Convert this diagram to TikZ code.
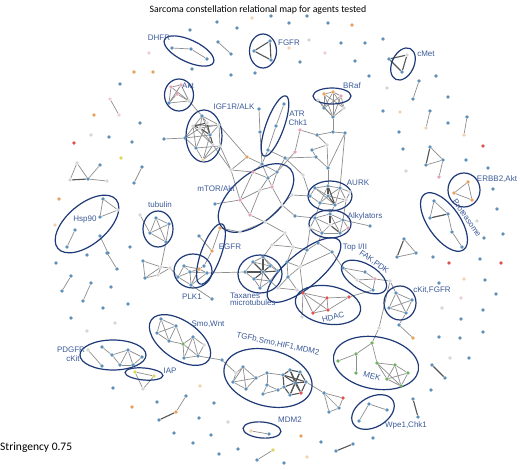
\documentclass[tikz,border=0pt]{standalone}
\usepackage{fontspec}
\setmainfont{Liberation Sans}
\newfontfamily\titlefont{Carlito}
\usetikzlibrary{shapes.geometric,backgrounds}
\definecolor{nb}{HTML}{5E90BA}
\definecolor{no}{HTML}{E8A05A}
\definecolor{po}{HTML}{F2D2B0}
\definecolor{npk}{HTML}{E6A3B5}
\definecolor{pp}{HTML}{F0CED6}
\definecolor{nr}{HTML}{D9534F}
\definecolor{ng}{HTML}{6FAF5F}
\definecolor{ny}{HTML}{D8D860}
\definecolor{pl}{HTML}{D6D6D6}
\definecolor{eg}{HTML}{8E8E8E}
\definecolor{eg2}{HTML}{555555}
\definecolor{ell}{HTML}{1F3A78}
\definecolor{lb}{HTML}{3C5A99}
\begin{document}
\begin{tikzpicture}[x=1pt,y=1pt,
  dot/.style={circle,inner sep=0pt,minimum size=3.6pt,draw=none},
  lk/.style={draw=eg,line width=0.7pt},
  hk/.style={draw=eg2,line width=1.1pt},
  grp/.style={ellipse,draw=ell,line width=1.2pt,inner sep=0pt},
  lab/.style={text=lb,font=\fontsize{8}{9}\selectfont,inner sep=0pt,align=center}]
\useasboundingbox (0,0) rectangle (520,-470);
\node[font=\titlefont\fontsize{9.8}{12}\selectfont] (title) at (258,-10) {Sarcoma constellation relational map for agents tested};
\node[font=\titlefont\fontsize{11.5}{13}\selectfont,anchor=west,inner sep=0pt] (str) at (0,-448) {Stringency 0.75};
% group ellipses
\foreach \n/\x/\y/\w/\h/\r in {Edhfr/189/51/54/22/-25, Efgfr/263/51/27/34/0, Ecmet/403/64/22/34/-25,
  Eakt/179/95/29/32/0, Ebraf/332/96/38/16/0, Eigf/204/136/36/52/0, Eatr/275/126/18/64/-20,
  Emtor/256/198/90/48/40, Eaurk/330/196/44/30/0, Ealk/330/224/42/28/0, Etop/304/270/92/34/40,
  Efak/364/277/50/26/-30, Ehdac/328/305/66/38/-10, Eckit/400/303/32/34/0, Emek/376/363/86/52/-10,
  Ewpe/373/412/46/30/30, Emdm/262/430/38/16/-5, Etgf/268/378/90/56/-15, Esmo/180/340/70/38/-35,
  Epdgfr/113/355/66/30/0, Eiap/144/374/38/12/-5, Ehsp/87/224/76/40/40, Etub/158/229/30/36/0,
  Eegfr/211/254/64/20/70, Eplk/193/271/38/34/0, Etax/260/274/44/38/0, Eerbb/464/190/32/34/0,
  Eprot/444/222/68/32/-55}
  \node[grp,minimum width=\w pt,minimum height=\h pt,rotate=\r] (\n) at (\x,-\y) {};
% labels
\foreach \n/\x/\y/\r/\t in {Ldhfr/159/38/0/DHFR, Lfgfr/289/43/0/FGFR, Lcmet/426/54/0/cMet, Lakt/188/86/0/Akt,
  Lbraf/352/86/0/BRaf, Ligf/234/107/0/{IGF1R/ALK}, Latr/297/114/0/ATR, Lchk/298/123/0/Chk1,
  Lmtor/216/189/0/{mTOR/Akt}, Laurk/358/183/0/AURK, Lalk/365/216/0/Alkylators, Ltop/355/247/0/{Top I/II},
  Lfak/374/262/-35/{FAK,PDK}, Lckit/432/290/0/{cKit,FGFR}, Lhdac/333/317/15/HDAC, Lerbb/497/179/0/{ERBB2,Akt},
  Lprot/467/218/-55/Proteasome, Lhsp/85/220/0/Hsp90, Ltub/160/205/0/tubulin, Legfr/230/247/0/EGFR,
  Lplk/192/297/0/PLK1, Lsmo/208/324/0/{Smo,Wnt}, Ltgf/278/344/-12/{TGFb,Smo,HIF1,MDM2}, Lpdg/71/350/0/PDGFR,
  Lck2/73/359/0/cKit, Liap/170/371/0/IAP, Lmek/372/376/-15/MEK, Lmdm/290/420/0/MDM2, Lwpe/406/425/0/{Wpe1,Chk1}}
  \node[lab,rotate=\r] (\n) at (\x,-\y) {\t};
\node[lab,anchor=west] (Ltax) at (230,-296) {Taxanes};
\node[lab,anchor=west] (Lmic) at (230,-303) {microtubules};
% isolated nodes
\foreach \x/\y/\c [count=\k] in {217/22/nb, 237/28/nb, 252/18/po, 271/16/nb, 289/23/nb, 307/16/nb, 328/23/nb, 352/25/no, 190/30/nb, 149/53/pp, 192/69/nb, 134/72/no, 153/72/no, 231/75/nb, 255/73/nb, 120/84/nb, 300/62/nb, 309/40/pl, 289/48/po, 325/53/pp, 341/43/nb, 355/61/nb, 365/43/nb, 383/39/nb, 369/76/nb, 387/88/pl, 436/76/nb, 448/97/nb, 383/111/nb, 400/112/po, 94/115/no, 140/123/nb, 91/135/pl, 109/137/nb, 132/142/nb, 74/143/nr, 121/158/ny, 59/199/no, 55/225/po, 87/255/nb, 130/247/nb, 56/263/nb, 111/287/nb, 103/308/nb, 128/304/nb, 71/318/nb, 115/323/pl, 87/331/pl, 113/388/nb, 200/386/po, 132/407/no, 157/402/nb, 214/403/nb, 199/418/nb, 228/422/pl, 174/433/nb, 193/443/nb, 211/435/nb, 219/454/nb, 238/449/nb, 284/463/nb, 307/457/po, 301/436/no, 321/442/nb, 373/438/nb, 431/390/nb, 442/308/pl, 461/319/nb, 483/310/nb, 483/332/nb, 439/337/nb, 460/338/nb, 469/358/nb, 450/358/pl, 433/257/nb, 449/263/nr, 480/259/nb, 501/263/nr, 439/283/nb, 464/279/po, 485/280/nb, 496/294/nb, 461/298/pp, 448/123/nb, 399/132/nb, 483/146/nr, 403/149/nb, 466/160/nb, 406/171/pl, 488/168/nb, 493/189/nb, 497/209/nb, 477/221/pl, 484/238/nb, 503/234/nb}
  \node[dot,fill=\c] (iso\k) at (\x,-\y) {};
% network nodes
\foreach \n/\x/\y/\c in {va1/218/42/nb, va2/231/54/nb, vb1/419/81/nb, vb2/413/99/nb, vc1/430/111/nb, vc2/426/128/po,
  vd1/467/117/nb, vd2/464/135/po, ve1/110/99/pp, ve2/119/115/pp, vf1/142/167/nb, vf2/134/183/nb,
  vg1/107/253/nb, vg2/117/269/nb, vh1/71/276/nb, vh2/62/291/nb, vi1/91/283/nb, vi2/83/301/nb,
  vj1/273/450/ny, vj2/257/460/nb, vk1/353/444/nb, vk2/336/451/nb, vl1/413/399/nb, vl2/418/417/nb,
  vm1/432/365/nb, vm2/445/378/nb, vn1/186/396/nb, vn2/176/412/no, vn3/159/420/nb,
  d1/172/48/nb, d2/191/49/nb, d3/207/59/nb, f1/254/51/nb, f2/270/41/nb, f3/271/60/nb,
  c1/389/59/nb, c2/407/55/pl, c3/402/72/nb,
  a1/171/87/npk, a2/181/85/npk, a3/169/103/nb, a4/189/101/pl, a5/177/94/npk,
  br1/324/94/no, br2/333/92/no, br3/341/96/npk, br4/344/108/pl, br5/324/108/nb, br6/333/117/nb, br7/318/100/pl,
  g0/164/139/nb, g1/185/138/nb, g2/202/116/nb, g3/219/125/pl, g4/220/146/pl, g5/203/160/po, g6/196/148/nb,
  g7/200/128/pl, g8/210/135/nb, g9/207/123/pl, g10/193/126/pl, g11/213/145/pl,
  n1/259/109/nb, n2/260/132/nb, t1/284/104/nb, t2/276/126/nb, t3/268/150/nb,
  m1/247/157/no, m2/262/164/nb, m3/253/172/npk, m4/268/178/nb, m5/277/172/nb, m6/285/158/nb, m7/260/190/pl,
  m8/272/187/npk, m9/240/200/npk, m10/250/215/npk, m11/282/205/pl, m12/231/170/pl, m13/295/152/npk,
  m14/300/130/npk, m15/215/204/nb, m16/292/195/pl, m17/265/222/pl, m18/240/232/pl,
  r1/317/135/nb, r2/333/132/nb, r3/345/133/nb, r5/316/157/nb, r6/312/150/nb, r7/328/168/nb, r8/303/175/pl, r9/327/145/pl,
  u1/315/188/nb, u2/328/186/nb, u3/340/188/nb, u4/346/200/pl, u5/335/205/nb, u6/320/203/nb, u7/310/196/nb, u8/350/192/pl, u9/328/196/nb,
  k0/295/216/nb, k1/315/218/nb, k2/330/214/nb, k3/343/220/nb, k4/340/233/nb, k5/322/233/nb, k6/348/228/npk, k7/310/228/pl, k8/370/226/nb, k9/330/225/pl,
  p1/300/267/pl, p2/307/250/nb, p3/293/247/pl, p4/287/262/nb, p5/272/245/pl, p6/278/288/pl, p7/297/290/pl, p8/288/277/nb, p9/318/243/nb, p10/332/252/nb, p11/285/233/pl,
  x1/245/272/nb, x2/253/262/nb, x3/263/257/nb, x4/270/266/nb, x5/260/288/nb, x6/278/271/nb, x7/270/281/nb, x8/254/279/nb, x9/263/272/nb,
  e1/220/228/no, e2/212/251/no, e3/204/266/nb, e4/199/236/nb,
  l1/178/277/nb, l2/190/272/nb, l3/191/285/nb, l4/199/269/no, l5/207/273/nb, l6/184/266/nb, l7/212/299/nb,
  q1/143/261/nb, q2/161/267/pl, q3/145/278/nb, q4/158/275/pl, q5/170/268/pl,
  tb0/140/215/pl, tb1/156/218/nb, tb2/169/224/nb, tb3/150/233/nb, tb4/166/242/nb,
  h1/103/199/nb, h2/118/210/pl, h3/100/217/nb, h4/75/230/nb, h5/67/247/nb, h6/100/236/nb, h7/108/253/nb,
  lt1/77/163/pl, lt2/70/180/pl, lt3/88/179/nb, lt4/100/165/nb, lt5/107/181/pl,
  s1/161/319/nb, s2/176/326/nb, s3/157/333/nb, s4/169/341/nb, s5/183/344/ng, s6/193/337/nb, s7/184/358/nb, s8/198/356/nb, s9/204/345/pl, s10/222/360/nb,
  pd1/88/350/pl, pd2/102/347/nb, pd3/112/355/nb, pd4/128/350/nb, pd5/142/357/nb, pd6/120/365/nb, pd7/102/366/nb, pd8/133/365/nb,
  ia1/135/372/ny, ia2/154/376/ny, ia3/143/389/pl,
  tA1/243/367/nb, tA2/256/378/nb, tA3/233/382/nb, tA4/246/389/nb, tA5/236/373/pl,
  tB1/267/373/nb, tB2/267/385/nb, tB3/278/390/nb, tB4/263/394/nb,
  tC1/283/375/nb, tC2/290/370/nb, tC3/300/372/nb, tC4/306/382/nb, tC5/301/393/nr, tC6/290/395/nb, tC7/284/387/nb, tC8/295/383/nb,
  D1/324/393/nb, D2/343/398/nr, D3/329/412/nb, D4/339/408/nb,
  mk1/372/343/ng, mk2/356/354/ng, mk3/338/361/ng, mk4/356/373/ng, mk5/377/363/ng, mk6/395/365/ng, mk7/408/373/ng, mk8/387/379/ng, mk9/401/386/ng, mm1/379/328/pl,
  fk1/343/268/nb, fk2/365/272/nb, fk3/375/279/npk, fk4/373/290/nb, fk5/357/280/pl, fk6/390/281/pl,
  hd1/303/293/nr, hd2/313/313/nr, hd3/327/298/nr, hd4/328/310/nr, hd5/349/297/nr, hd6/302/317/pl,
  ck1/396/293/nb, ck2/412/300/nb, ck3/389/308/nb, ck4/406/313/nb, ck5/399/325/nb, ck6/413/338/no,
  pr1/434/201/nb, pr2/430/218/nb, pr3/448/214/nb, pr4/452/232/nb, pr5/462/247/nb,
  eb1/454/193/no, eb2/468/182/no, eb3/472/200/no,
  tq1/430/147/nb, tq2/426/165/nb, tq3/443/160/nb, tq4/439/177/npk,
  tr1/404/239/nb, tr2/397/257/nb, tr3/416/253/nb,
  w1/369/404/nb, w2/387/410/nb, w3/359/421/nb, md1/251/431/po, md2/269/434/nb}
  \node[dot,fill=\c] (\n) at (\x,-\y) {};
\begin{pgfonlayer}{background}
\fill[white] (0,0) rectangle (520,-470);
\foreach \a/\b in {va1/va2, vb1/vb2, vc1/vc2, vd1/vd2, ve1/ve2, vf1/vf2, vg1/vg2, vh1/vh2, vi1/vi2, vj1/vj2, vn1/vn2,
  d1/d2, d2/d3, a1/a2, a1/a3, a2/a3, a1/a4, a2/a4, a3/a4, a5/a3, a5/a4, a4/g2,
  br1/br2, br2/br3, br1/br5, br1/br6, br2/br6, br3/br4, br4/br6, br5/br6, br2/br4, br1/br4, br3/br5, br7/br5, br7/br6, br2/br5, br3/br6,
  g0/g1, g1/g2, g1/g7, g1/g8, g1/g6, g2/g3, g2/g7, g2/g9, g2/g8, g3/g8, g3/g4, g3/g10, g4/g6, g4/g5, g5/g6, g5/g8, g6/g9, g7/g11, g10/g11, g11/g5, g10/g6, g7/g3,
  g4/m12, g3/m1, g11/m12,
  n1/n2, n2/m2, t1/t2, t2/t3, t3/m2, t3/m6,
  m1/m2, m1/m12, m2/m3, m2/m4, m2/m5, m3/m4, m3/m12, m4/m5, m4/m7, m4/m8, m5/m6, m5/m8, m5/m13, m13/m14, m7/m8, m7/m9, m3/m9, m9/m10, m9/m15,
  m10/m17, m8/m11, m11/m16, m11/m17, m7/m10, m12/m9, m17/m18, m18/e1, m6/r5, m14/r1, m16/u7, m11/k0, m17/p11,
  br6/r2, r2/r1, r2/r3, r1/r9, r9/r6, r6/r5, r5/r7, r3/r7, r7/u2, r8/m6, r8/u7, r9/r7, r3/u3,
  u1/u2, u2/u3, u3/u4, u4/u5, u5/u6, u6/u7, u7/u1, u1/u9, u3/u9, u4/u9, u6/u9, u1/u5, u2/u6, u3/u5, u8/u3, u8/u4,
  k0/k1, k1/k2, k2/k3, k3/k4, k4/k5, k5/k7, k7/k1, k1/k9, k3/k9, k5/k9, k3/k6, k6/k4, k3/k8, u6/k1, u5/k2, u4/k3, k5/p9, k7/p2, k2/k4, k1/k5,
  p11/p5, p11/p3, p5/p3, p5/x3, p3/p2, p3/p4, p2/p9, p9/p10, p2/p1, p4/p1, p4/x6, p1/p8, p8/p4, p8/p6, p6/x7, p8/p7, p7/hd1, p1/hd1, p6/p7, p10/fk1, p1/p10,
  x1/x2, x1/x8, x2/x3, x3/x4, x4/x6, x6/x7, x7/x5, x5/x8, x2/x4, x8/x7, x3/x6, x9/x5, x1/l5,
  e1/e2, e2/e3, e4/e2, e3/l4,
  l1/l2, l1/l3, l2/l3, l2/l4, l4/l5, l3/l5, l6/l2, l6/l1, l4/l3, l6/l4, l2/l5, l3/l7, l1/q5,
  q1/q2, q1/q3, q2/q3, q2/q4, q3/q4, q4/q5, q2/q5, tb4/q2,
  tb0/tb3, tb1/tb2, tb1/tb3, tb1/tb4, tb2/tb3, tb2/tb4, tb3/tb4,
  h1/h2, h1/h3, h2/h3, h4/h5, h6/h7, lt1/lt2, lt1/lt3, lt3/lt4, lt3/lt5,
  s1/s2, s1/s3, s1/s4, s2/s3, s2/s4, s3/s4, s4/s5, s2/s5, s5/s6, s6/s7, s5/s7, s6/s8, s6/s9, s7/s8, s8/s9, s5/s8, s8/s10, s10/tA5,
  pd1/pd7, pd2/pd3, pd3/pd6, pd4/pd6, pd4/pd5, pd4/pd8, pd5/pd8, pd6/pd8, pd3/pd4,
  ia1/ia2, ia1/ia3, ia2/ia3,
  tA1/tA2, tA1/tA3, tA2/tA4, tA3/tA4, tA1/tA4, tA2/tA3, tA5/tA1, tA5/tA3, tA2/tB1, tB1/tB2, tB2/tB3, tB2/tB4, tB4/tB3, tB3/tC7, tB1/tC1,
  tC4/D1, D1/D2, D1/D3, D1/D4, D3/D4, D2/D4,
  mk1/mk2, mk2/mk3, mk2/mk4, mk1/mk5, mk5/mk6, mk5/mk8, mk6/mk7, mk6/mk8, mk6/mk9, mk7/mk9, mk8/mk9, mk5/mk9, mk8/mk7,
  fk6/mm1, mm1/mk1, fk1/fk2, fk2/fk3, fk1/fk5, fk5/fk4, fk3/fk4, fk5/fk3, fk3/fk6, fk6/ck1, hd5/fk4,
  hd1/hd2, hd1/hd3, hd1/hd4, hd2/hd3, hd2/hd4, hd3/hd4, hd3/hd5, hd4/hd5, hd1/hd6,
  ck1/ck2, ck1/ck3, ck2/ck4, ck3/ck4, ck1/ck4, ck2/ck3, ck4/ck5, ck5/ck6,
  pr1/pr2, pr1/pr3, pr2/pr3, pr3/pr4, pr4/pr5, eb1/eb2, eb2/eb3, eb1/eb3,
  tq1/tq3, tq2/tq3, tq3/tq4, tr1/tr3, tr2/tr3, w1/w2, w1/w3, md1/md2}
  \draw[lk] (\a) -- (\b);
\foreach \a/\b in {vk1/vk2, vl1/vl2, vm1/vm2, vn2/vn3, f1/f2, f2/f3, f1/f3, c1/c2, c2/c3, c1/c3,
  g7/g8, g8/g9, g9/g10, g10/g7, g8/g11, x2/x9, x3/x9, x4/x9, x8/x9, x9/x7, x1/x9, x9/x6,
  u2/u9, u5/u9, u2/u5, k2/k9, k4/k9,
  tC1/tC2, tC2/tC3, tC3/tC4, tC4/tC5, tC5/tC6, tC6/tC7, tC7/tC1, tC1/tC8, tC2/tC8, tC3/tC8, tC4/tC8, tC5/tC8, tC6/tC8, tC7/tC8, tC1/tC4, tC2/tC5, tC3/tC6,
  tq1/tq2, tr1/tr2, lt2/lt3, pr2/pr3}
  \draw[hk] (\a) -- (\b);
\end{pgfonlayer}
\end{tikzpicture}
\end{document}
